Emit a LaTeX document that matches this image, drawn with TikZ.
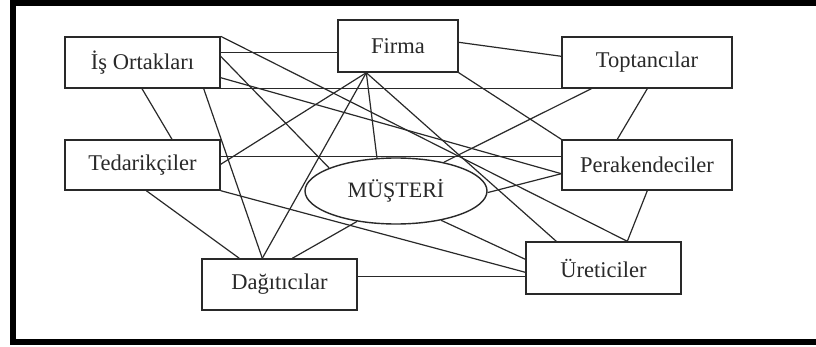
\documentclass[tikz,border=0pt]{standalone}
\usepackage{fontspec}
\setmainfont{Liberation Serif}
\usetikzlibrary{calc,shapes.geometric}
\definecolor{ink}{rgb}{0.16,0.16,0.16}
\begin{document}
\begin{tikzpicture}[x=1pt,y=-1pt,
  box/.style={draw=ink,line width=1.4pt,fill=white,rectangle,inner sep=0pt,
    minimum width=155pt,minimum height=51pt,text=ink,
    font=\fontsize{22.5}{27}\selectfont},
  oval/.style={draw=ink,line width=1.4pt,fill=white,ellipse,inner sep=0pt,
    minimum width=182pt,minimum height=66pt,text=ink,
    font=\fontsize{22}{26}\selectfont},
  link/.style={draw=ink,line width=1.2pt}]
\useasboundingbox (0,0) rectangle (816,347);
% outer frame (open on the right)
\draw[line width=6pt,black] (830,3) -- (12.5,3) -- (12.5,341.5) -- (830,341.5);

% nodes
\node[box] (I) at (142.5,62.5) {İş Ortakları};
\node[box,minimum width=120pt,minimum height=52pt] (F) at (398,46) {Firma};
\node[box,minimum width=170pt] (T) at (647,62.5) {Toptancılar};
\node[box,minimum height=50pt] (E) at (142.5,165) {Tedarikçiler};
\node[box,minimum width=170pt,minimum height=50pt] (P) at (647,165) {Perakendeciler};
\node[box] (D) at (279.5,284.5) {Dağıtıcılar};
\node[box,minimum height=52pt] (U) at (603.5,268) {Üreticiler};
\node[oval] (M) at (396,191) {MÜŞTERİ};

% connectors
\draw[link] ($(I.north east)+(0,16)$) -- ($(F.north west)+(0,33)$);
\draw[link] (I.south east) -- (T.south west);
\draw[link] ($(I.south)+(-0.5,0)$) -- ($(E.north)+(29.5,0)$);
\draw[link] ($(I.south east)+(-17,0)$) -- ($(D.north west)+(61,0)$);
\draw[link] ($(I.north east)+(0,20)$) -- (M.161);
\draw[link] ($(I.south east)+(0,-11)$) -- ($(P.south west)+(0,-17)$);
\draw[link] (I.north east) -- ($(U.north west)+(102,0)$);

\draw[link] ($(F.north east)+(0,23)$) -- ($(T.north west)+(0,20)$);
\draw[link] (F.south east) -- (P.north west);
\draw[link] ($(F.south west)+(29,0)$) -- ($(U.north west)+(31,0)$);
\draw[link] ($(F.south west)+(29,0)$) -- (M.120);
\draw[link] ($(F.south west)+(29,0)$) -- ($(D.north west)+(61,0)$);
\draw[link] ($(F.south west)+(29,0)$) -- ($(E.north east)+(0,25)$);

\draw[link] ($(T.south west)+(86,0)$) -- ($(P.north west)+(56,0)$);
\draw[link] ($(T.south west)+(30,0)$) -- (M.31);

\draw[link] ($(E.north east)+(0,17)$) -- ($(P.north west)+(0,17)$);
\draw[link] ($(E.south west)+(82,0)$) -- ($(D.north west)+(38,0)$);
\draw[link] (E.south east) -- ($(U.north west)+(0,31)$);

\draw[link] ($(P.south west)+(0,-17)$) -- (M.-1);
\draw[link] ($(P.south west)+(86,0)$) -- ($(U.north west)+(102,0)$);

\draw[link] (M.-33) -- ($(U.north west)+(0,18)$);
\draw[link] (M.-142) -- ($(D.north west)+(91,0)$);
\draw[link] ($(D.north east)+(0,18)$) -- ($(U.north west)+(0,35)$);
\end{tikzpicture}
\end{document}
